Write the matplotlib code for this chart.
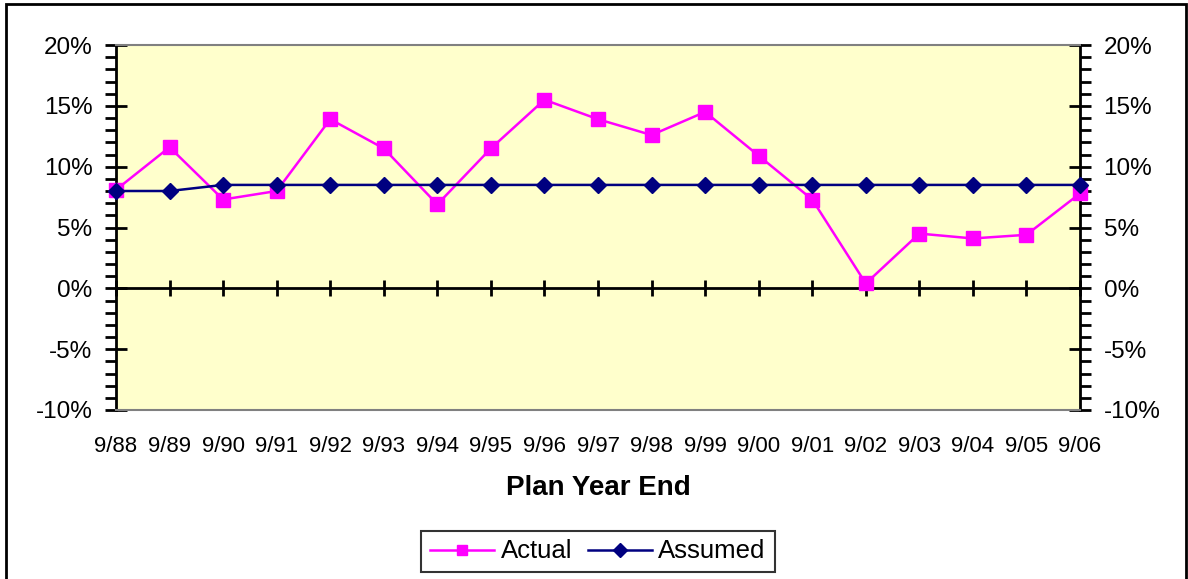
import numpy as np
import matplotlib.pyplot as plt
from matplotlib.ticker import MultipleLocator, FuncFormatter
from matplotlib.patches import Rectangle

plt.rcParams['font.family'] = ['Liberation Sans', 'DejaVu Sans']

years = ['9/88', '9/89', '9/90', '9/91', '9/92', '9/93', '9/94', '9/95', '9/96', '9/97',
         '9/98', '9/99', '9/00', '9/01', '9/02', '9/03', '9/04', '9/05', '9/06']
actual = [8.1, 11.6, 7.3, 8.0, 13.9, 11.5, 6.9, 11.5, 15.5, 13.9,
          12.6, 14.5, 10.9, 7.3, 0.4, 4.5, 4.1, 4.4, 7.8]
assumed = [8.0, 8.0, 8.5, 8.5, 8.5, 8.5, 8.5, 8.5, 8.5, 8.5,
           8.5, 8.5, 8.5, 8.5, 8.5, 8.5, 8.5, 8.5, 8.5]

W, H = 1188, 579
fig = plt.figure(figsize=(W / 100, H / 100), dpi=100)

# plot area in pixels: x 116..1080, y 45..410
ax = fig.add_axes([116 / W, 1 - 410 / H, (1080 - 116) / W, (410 - 45) / H])
ax.set_facecolor('#FFFFCC')

x = np.arange(len(years))
ax.plot(x, actual, color='#FF00FF', lw=1.8, marker='s', ms=9.5,
        mec='#FF00FF', mfc='#FF00FF', label='Actual', zorder=3, clip_on=False)
ax.plot(x, assumed, color='#000080', lw=1.8, marker='D', ms=8.5,
        mec='#000080', mfc='#000080', label='Assumed', zorder=4, clip_on=False)

ax.set_xlim(0, len(years) - 1)
ax.set_ylim(-10, 20)

pct = FuncFormatter(lambda v, p: '%d%%' % v)
ax.yaxis.set_major_locator(MultipleLocator(5))
ax.yaxis.set_minor_locator(MultipleLocator(1))
ax.yaxis.set_major_formatter(pct)
ax.tick_params(axis='y', which='major', direction='inout', length=16, width=2,
               labelsize=17.5, pad=9, left=True, right=True,
               labelleft=True, labelright=True)
ax.tick_params(axis='y', which='minor', direction='out', length=8, width=2,
               left=True, right=True)

ax.set_xticks(x)
ax.set_xticklabels(years)
ax.tick_params(axis='x', which='both', length=0, labelsize=16, pad=19)

for s in ['top', 'bottom']:
    ax.spines[s].set_color('#808080')
    ax.spines[s].set_linewidth(1.5)
for s in ['left', 'right']:
    ax.spines[s].set_color('black')
    ax.spines[s].set_linewidth(2)

# category axis crossing at 0%
zax = ax.secondary_xaxis(1 / 3)
zax.set_xticks(x)
zax.tick_params(axis='x', direction='inout', length=12, width=2,
                labelbottom=False, labeltop=False, top=False, bottom=True)
zax.spines['bottom'].set_linewidth(2)
zax.spines['bottom'].set_color('black')

ax.set_xlabel('Plan Year End', fontsize=20, fontweight='bold', labelpad=13)

leg = fig.legend(loc='center', bbox_to_anchor=(598 / W, 1 - 551.5 / H), ncol=2,
                 fontsize=18.5, frameon=True, fancybox=False, edgecolor='black',
                 handlelength=2.5, handletextpad=0.25, columnspacing=0.6,
                 borderpad=0.35, markerscale=0.8)
leg.get_frame().set_linewidth(1.5)

fig.patches.append(Rectangle((6 / W, -0.01), (1186 - 6) / W, 1 - 4 / H + 0.01,
                             transform=fig.transFigure, fill=False,
                             edgecolor='black', lw=2))

fig.savefig('out.png', dpi=100)
